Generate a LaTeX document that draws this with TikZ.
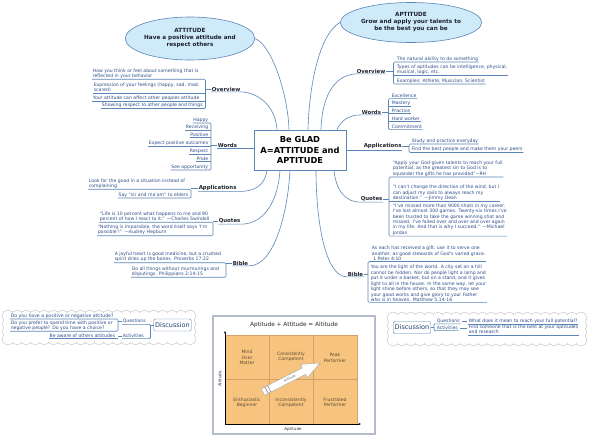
\documentclass[tikz,border=0pt]{standalone}
\usepackage{fontspec}
\setmainfont{DejaVu Sans}
\usetikzlibrary{shapes.geometric,arrows.meta}
\definecolor{mline}{HTML}{5B86B8}
\definecolor{kidc}{HTML}{2C4E88}
\definecolor{labc}{HTML}{1E2230}
\definecolor{ellc}{HTML}{CFEAF8}
\definecolor{cloudc}{HTML}{C8C8CC}
\definecolor{framec}{HTML}{B4BCCB}
\definecolor{orc}{HTML}{F6C47F}
\definecolor{gridc}{HTML}{D4A066}
\definecolor{cellc}{HTML}{5E4A32}
\newcommand{\mmbrL}[3]{\draw[mln, rounded corners=1.2pt] (#2.south west) -- (#2.south west -| #1) -- (#3.south west -| #1) -- (#3.south west);}
\newcommand{\mmbrR}[3]{\draw[mln, rounded corners=1.2pt] (#2.south east) -- (#2.south east -| #1) -- (#3.south east -| #1) -- (#3.south east);}
\newcommand{\mmulL}[2]{\draw[mln] (#2.south west) -- (#2.south west -| #1);}
\newcommand{\mmulR}[2]{\draw[mln] (#2.south east) -- (#2.south east -| #1);}
% scalloped cloud: x1 y1 x2 y2
\newcommand{\mmcloudpath}[1]{%
  \foreach \i in {0,...,\cnx} {\pgfmathsetmacro{\xx}{\cxa+\i*(\cxb-\cxa)/\cnx}
     \path[#1] (\xx,\cya) circle (5.5pt) (\xx,\cyb) circle (5.5pt);}
  \foreach \j in {0,...,\cny} {\pgfmathsetmacro{\yy}{\cya+\j*(\cyb-\cya)/\cny}
     \path[#1] (\cxa,\yy) circle (5.5pt) (\cxb,\yy) circle (5.5pt);}}
\newcommand{\mmcloud}[4]{%
  \pgfmathsetmacro{\cxa}{#1+5}\pgfmathsetmacro{\cxb}{#3-5}%
  \pgfmathsetmacro{\cya}{#2+5}\pgfmathsetmacro{\cyb}{#4-5}%
  \pgfmathsetmacro{\cnx}{int(round((\cxb-\cxa)/9))}%
  \pgfmathsetmacro{\cny}{int(round((\cyb-\cya)/8))}%
  \mmcloudpath{draw=cloudc, line width=1.2pt}
  \mmcloudpath{fill=white}
  \fill[white] (\cxa,\cya) rectangle (\cxb,\cyb);}
\begin{document}
\begin{tikzpicture}[x=1pt,y=-1pt,
  mln/.style={draw=mline, line width=0.6pt},
  kid/.style={font=\fontsize{4.6}{5.45}\selectfont, text=kidc, inner sep=0.6pt, align=left},
  lab/.style={font=\fontsize{5.4}{6.4}\selectfont\bfseries, text=labc, inner sep=0.6pt},
  disc/.style={draw=mline, rounded corners=1.5pt, fill=white, font=\fontsize{6.5}{7.5}\selectfont, text=kidc!80!black, inner sep=1.5pt, minimum height=12pt},
  cell/.style={font=\fontsize{4.5}{5.4}\selectfont, text=cellc, align=center, inner sep=0pt}]
\useasboundingbox (0,0) rectangle (590,439);
\fill[white] (0,0) rectangle (590,439);

% ===== centre and ellipses =====
\node[draw=mline, line width=0.8pt, fill=white, minimum width=92pt, minimum height=40pt, align=center,
  font=\fontsize{8.3}{10.6}\selectfont\bfseries, text=black, inner sep=0pt] (cen) at (300,150) {Be GLAD\\A=ATTITUDE and\\APTITUDE};
\node[ellipse, draw=mline, line width=0.6pt, fill=ellc, minimum width=120pt, minimum height=43pt, inner sep=0pt, align=center,
  font=\fontsize{5.7}{7}\selectfont\bfseries, text=labc] (att) at (190,38.5) {ATTITUDE\\Have a positive attitude and\\respect others};
\node[ellipse, draw=mline, line width=0.6pt, fill=ellc, minimum width=132pt, minimum height=40pt, inner sep=0pt, align=center,
  font=\fontsize{5.7}{7}\selectfont\bfseries, text=labc] (apt) at (411,22.5) {APTITUDE\\Grow and apply your talents to\\be the best you can be};
\draw[mln] (att.east) .. controls (272,45) and (288,95) .. ([xshift=-11pt]cen.north);
\draw[mln] (apt.west) .. controls (318,35) and (309,90) .. ([xshift=8pt]cen.north);

% ===== left: Overview =====
\node[kid,anchor=west] (lo1) at (92,73.5) {How you think or feel about something that is\\reflected in your behavior};
\node[kid,anchor=west] (lo2) at (93,87.5) {Expression of your feelings (happy, sad, mad,\\scared)};
\node[kid,anchor=west] (lo3) at (92,98) {Your attitude can affect other peoples attitude};
\node[kid,anchor=east] (lo4) at (203.5,105.5) {Showing respect to other people and things};
\coordinate (blo) at (205.5,0);
\mmbrL{blo}{lo1}{lo4} \mmulL{blo}{lo2} \mmulL{blo}{lo3}
\node[lab,anchor=west] (lov) at (211,89) {Overview};
\draw[mln] (lov.west -| blo) -- (lov.west);
\draw[mln] (lov.south west) -- (lov.south east) .. controls (262,93) and (276,110) .. ([xshift=-23pt]cen.north);

% ===== left: Words =====
\foreach \t/\y [count=\i] in {Happy/120, Receiving/127.5, Positive/135, Expect positive outcomes/143, Respect/151, Pride/159, See opportunity/167}
  {\node[kid,anchor=east] (lw\i) at (209,\y) {\t};}
\coordinate (blw) at (211,0);
\mmbrL{blw}{lw1}{lw7}
\foreach \i in {2,...,6} {\mmulL{blw}{lw\i}}
\node[lab,anchor=west] (lwd) at (217,145) {Words};
\draw[mln] (lwd.west -| blw) -- (lwd.west);
\draw[mln] (lwd.south west) -- (lwd.south -| cen.west);

% ===== left: Applications =====
\node[kid,anchor=west] (la1) at (88,183.5) {Look for the good in a situation instead of\\complaining};
\node[kid,anchor=east] (la2) at (189,195) {Say “sir and ma’am” to elders};
\coordinate (bla) at (191,0);
\mmbrL{bla}{la1}{la2}
\node[lab,anchor=west] (lap) at (198,188) {Applications};
\draw[mln] (lap.west -| bla) -- (lap.west);
\draw[mln] (lap.south west) -- (lap.south east) .. controls (255,192) and (265,185) .. ([xshift=-33pt]cen.south);

% ===== left: Quotes =====
\node[kid,anchor=west] (lq1) at (99,216.5) {“Life is 10 percent what happens to me and 90\\percent of how I react to it.” —Charles Swindoll};
\node[kid,anchor=west] (lq2) at (97,230) {“Nothing is impossible, the word itself says ‘I’m\\possible’!” —Audrey Hepburn};
\coordinate (blq) at (213,0);
\mmbrL{blq}{lq1}{lq2}
\node[lab,anchor=west] (lqu) at (218,221) {Quotes};
\draw[mln] (lqu.west -| blq) -- (lqu.west);
\draw[mln] (lqu.south west) -- (lqu.south east) .. controls (265,224) and (278,200) .. ([xshift=-20pt]cen.south);

% ===== left: Bible =====
\node[kid,anchor=west] (lb1) at (114,257) {A joyful heart is good medicine, but a crushed\\spirit dries up the bones. Proverbs 17:22};
\node[kid,anchor=west] (lb2) at (131,271.5) {Do all things without murmurings and\\disputings. Philippians 2:14-15};
\coordinate (blb) at (226,0);
\mmbrL{blb}{lb1}{lb2}
\node[lab,anchor=west] (lbi) at (232,263) {Bible};
\draw[mln] (lbi.west -| blb) -- (lbi.west);
\draw[mln] (lbi.south west) -- (lbi.south east) .. controls (275,266) and (288,210) .. ([xshift=-10pt]cen.south);

% ===== right: Overview =====
\node[kid,anchor=west] (ro1) at (396,59) {The natural ability to do something};
\node[kid,anchor=west] (ro2) at (396,70) {Types of aptitudes can be intelligence, physical,\\musical, logic, etc.};
\node[kid,anchor=west] (ro3) at (396,81) {Examples: Athlete, Musician, Scientist};
\coordinate (bro) at (393.5,0);
\mmbrR{bro}{ro1}{ro3} \mmulR{bro}{ro2}
\node[lab,anchor=west] (rov) at (356,71) {Overview};
\draw[mln] (rov.east) -- (rov.east -| bro);
\draw[mln] (rov.south east) -- (rov.south west) .. controls (335,75) and (322,95) .. ([xshift=21pt]cen.north);

% ===== right: Words =====
\foreach \t/\y [count=\i] in {Excellence/96, Mastery/103.5, Practice/111, Hard worker/119, Commitment/127}
  {\node[kid,anchor=west] (rw\i) at (391,\y) {\t};}
\coordinate (brw) at (388.5,0);
\mmbrR{brw}{rw1}{rw5}
\foreach \i in {2,...,4} {\mmulR{brw}{rw\i}}
\node[lab,anchor=west] (rwd) at (361,112) {Words};
\draw[mln] (rwd.east) -- (rwd.east -| brw);
\draw[mln] (rwd.south east) -- (rwd.south west) .. controls (348,115) and (341,121) .. ([xshift=37pt]cen.north);

% ===== right: Applications =====
\node[kid,anchor=west] (ra1) at (411,141) {Study and practice everyday};
\node[kid,anchor=west] (ra2) at (411,149.5) {Find the best people and make them your peers};
\coordinate (bra) at (409,0);
\mmbrR{bra}{ra1}{ra2}
\node[lab,anchor=west] (rap) at (363,146.5) {Applications};
\draw[mln] (rap.east) -- (rap.east -| bra);
\draw[mln] (rap.south east) -- (rap.south -| cen.east);

% ===== right: Quotes =====
\node[kid,anchor=west] (rq1) at (392,168.5) {“Apply your God-given talents to reach your full\\potential, as the greatest sin to God is to\\squander the gifts he has provided”\textasciitilde RH};
\node[kid,anchor=west] (rq2) at (392,193) {“I can’t change the direction of the wind, but I\\can adjust my sails to always reach my\\destination.” —Jimmy Dean};
\node[kid,anchor=west] (rq3) at (392,219.5) {“I’ve missed more than 9000 shots in my career.\\I’ve lost almost 300 games. Twenty-six times I’ve\\been trusted to take the game winning shot and\\missed. I’ve failed over and over and over again\\in my life. And that is why I succeed.” —Michael\\Jordan};
\coordinate (brq) at (389,0);
\mmbrR{brq}{rq1}{rq3} \mmulR{brq}{rq2}
\node[lab,anchor=west] (rqu) at (360,199) {Quotes};
\draw[mln] (rqu.east) -- (rqu.east -| brq);
\draw[mln] (rqu.south east) -- (rqu.south west) .. controls (345,202) and (336,190) .. ([xshift=34pt]cen.south);

% ===== right: Bible =====
\node[kid,anchor=west] (rb1) at (371,253.5) {As each has received a gift, use it to serve one\\another, as good stewards of God’s varied grace.\\\ 1 Peter 4:10};
\node[kid,anchor=west] (rb2) at (370,283.5) {You are the light of the world. A city set on a hill\\cannot be hidden. Nor do people light a lamp and\\put it under a basket, but on a stand, and it gives\\light to all in the house. In the same way, let your\\light shine before others, so that they may see\\your good works and give glory to your Father\\who is in heaven. Matthew 5:14-16};
\coordinate (brb) at (368,0);
\mmbrR{brb}{rb1}{rb2}
\node[lab,anchor=west] (rbi) at (347,274) {Bible};
\draw[mln] (rbi.east) -- (rbi.east -| brb);
\draw[mln] (rbi.south east) -- (rbi.south west) .. controls (325,277) and (316,220) .. ([xshift=16pt]cen.south);

% ===== left discussion =====
\mmcloud{3}{311}{195}{344}
\node[kid,anchor=west] (dq1) at (10,316) {Do you have a positive or negative attitude?};
\node[kid,anchor=west] (dq2) at (10,325.5) {Do you prefer to spend time with positive or\\negative people? Do you have a choice?};
\node[kid,anchor=east] (dq3) at (116,336) {Be aware of others attitudes};
\coordinate (bdq) at (118,0);
\mmbrL{bdq}{dq1}{dq2} \mmulL{bdq}{dq3}
\node[kid,anchor=west] (dqq) at (122,321.5) {Questions};
\node[kid,anchor=west] (dqa) at (122,336) {Activities};
\draw[mln] (dqq.west -| bdq) -- (dqq.west);
\draw[mln] (dqa.west -| bdq) -- (dqa.west);
\node[disc] (dl) at (172.5,325) {Discussion};
\coordinate (bdl) at (150.5,0);
\draw[mln, rounded corners=1pt] (dqq.south west) -- (dqq.south east -| bdl) -- (dqa.south east -| bdl) -- (dqa.south west);
\draw[mln] (dl.west -| bdl) -- (dl.west);

% ===== right discussion =====
\mmcloud{388}{313}{586}{345}
\node[disc] (dr) at (412,327.5) {Discussion};
\node[kid,anchor=west] (drq) at (436,321) {Questions};
\node[kid,anchor=west] (dra) at (436,328) {Activities};
\node[kid,anchor=west] (drq1) at (468,321) {What does it mean to reach your full potential?};
\node[kid,anchor=west] (dra1) at (468,329.5) {Find someone that is the best at your aptitudes\\and research};
\coordinate (bdr) at (434,0);
\draw[mln, rounded corners=1pt] (drq.south east) -- (drq.south west -| bdr) -- (dra.south west -| bdr) -- (dra.south east);
\draw[mln] (dr.east) -- (dr.east -| bdr);
\draw[mln] ([xshift=1.5pt]drq.east) -- ([xshift=-1.5pt]drq1.west);
\draw[mln] ([xshift=1.5pt]dra.east) -- ([xshift=-1.5pt]dra1.west |- dra.east);
\draw[mln] (drq1.south west) -- (drq1.south east);
\draw[mln] (dra1.south west) -- (dra1.south east);

% ===== chart =====
\draw[draw=framec, line width=1.4pt, fill=white] (213,316) rectangle (375,434);
\node[font=\fontsize{5.8}{7}\selectfont, text=black!85, inner sep=0pt] (ctitle) at (294,325) {Aptitude + Attitude = Altitude};
\fill[orc] (225,335) rectangle (357,424);
\draw[gridc, line width=0.5pt] (225,335) rectangle (357,424) (269,335) -- (269,424) (313,335) -- (313,424) (225,379.5) -- (357,379.5);
\draw[black, line width=0.6pt, -{Stealth[length=2.5pt,width=2pt]}] (225,424) -- (225,331);
\draw[black, line width=0.6pt, -{Stealth[length=2.5pt,width=2pt]}] (225,424) -- (361,424);
\node[font=\fontsize{4}{5}\selectfont, text=black!80, rotate=90, inner sep=0pt] (yl) at (220,379) {Altitude};
\node[font=\fontsize{4}{5}\selectfont, text=black!80, inner sep=0pt] (xl) at (293,429.5) {Aptitude};
\node[cell] (c1) at (247,357.5) {Mind\\Over\\Matter};
\node[cell] (c2) at (291,356.5) {Consistently\\Competent};
\node[cell] (c3) at (335,358) {Peak\\Performer};
\node[cell] (c4) at (247,402.5) {Enthusiastic\\Beginner};
\node[cell] (c5) at (291,402.5) {Inconsistently\\Competent};
\node[cell] (c6) at (335,402.5) {Frustrated\\Performer};
\begin{scope}[shift={(263,392)}, rotate=27]
  \draw[fill=white, draw=black!35, line width=0.4pt] (0,-3.6) -- (46,-3.6) -- (46,-7.5) -- (64,0) -- (46,7.5) -- (46,3.6) -- (0,3.6) -- cycle;
  \draw[black!45, line width=0.7pt] (4,-3.6) -- (4,3.6) (7,-3.6) -- (7,3.6);
  \node[font=\fontsize{3.2}{4}\selectfont, text=black!60, rotate=27, inner sep=0pt] (alab) at (30,0) {Attitude};
\end{scope}
\end{tikzpicture}
\end{document}
